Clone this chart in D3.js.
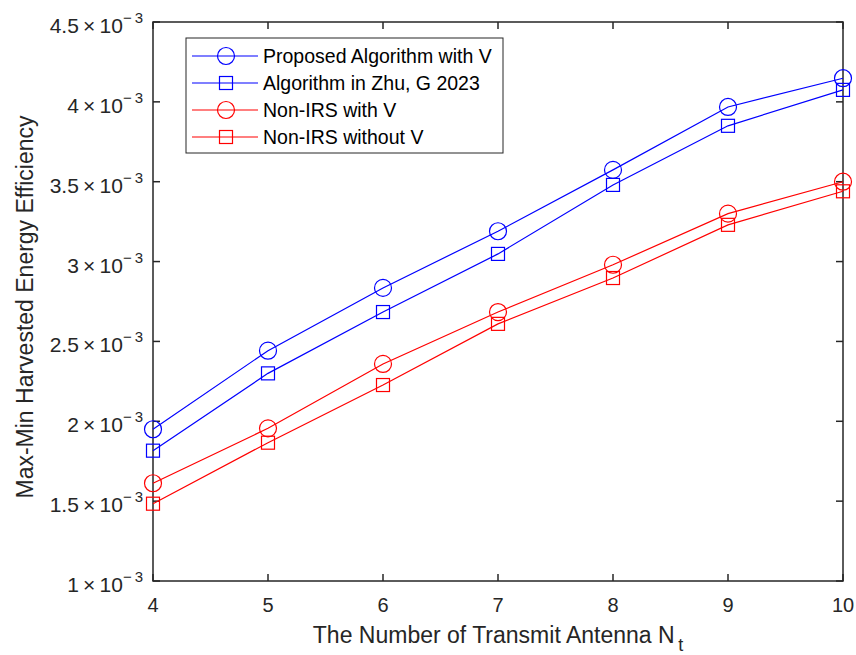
<!DOCTYPE html>
<html lang="en">
<head>
<meta charset="utf-8">
<title>Max-Min Harvested Energy Efficiency</title>
<script src="https://cdn.jsdelivr.net/npm/d3@7"></script>
<style>
  body { margin: 0; background: #fff; }
  text { font-family: "Liberation Sans", Arial, sans-serif; fill: #262626; }
</style>
</head>
<body>
<script>
// data
var antennas = [4, 5, 6, 7, 8, 9, 10];
var proposed = [1.950, 2.442, 2.835, 3.190, 3.574, 3.968, 4.148];
var zhu2023 = [1.816, 2.300, 2.684, 3.048, 3.480, 3.850, 4.075];
var nonIrsWith = [1.612, 1.956, 2.359, 2.684, 2.980, 3.300, 3.500];
var nonIrsWithout = [1.484, 1.866, 2.227, 2.610, 2.897, 3.230, 3.440];
var yTicks = [1, 1.5, 2, 2.5, 3, 3.5, 4, 4.5];   // x 10^-3

var series = [
  { name: "Proposed Algorithm with V", values: proposed, color: "#0000ff", marker: "circle" },
  { name: "Algorithm in Zhu, G 2023", values: zhu2023, color: "#0000ff", marker: "square" },
  { name: "Non-IRS with V", values: nonIrsWith, color: "#ff0000", marker: "circle" },
  { name: "Non-IRS without V", values: nonIrsWithout, color: "#ff0000", marker: "square" }
];

var w = 856, h = 655;
var pLeft = 153, pRight = 843, pTop = 22, pBottom = 581;

var svg = d3.select("body").append("svg")
  .attr("width", w).attr("height", h);

var x = d3.scaleLinear().domain([4, 10]).range([pLeft, pRight]);
var y = d3.scaleLinear().domain([1, 4.5]).range([pBottom, pTop]);

// axes box
svg.append("rect")
  .attr("x", pLeft).attr("y", pTop)
  .attr("width", pRight - pLeft).attr("height", pBottom - pTop)
  .attr("fill", "none").attr("stroke", "#262626").attr("stroke-width", 1.5);

var tl = 7;
var g = svg.append("g").attr("stroke", "#262626").attr("stroke-width", 1.5);
antennas.forEach(function(d) {
  g.append("line").attr("x1", x(d)).attr("x2", x(d)).attr("y1", pBottom).attr("y2", pBottom - tl);
  g.append("line").attr("x1", x(d)).attr("x2", x(d)).attr("y1", pTop).attr("y2", pTop + tl);
});
yTicks.forEach(function(d) {
  g.append("line").attr("x1", pLeft).attr("x2", pLeft + tl).attr("y1", y(d)).attr("y2", y(d));
  g.append("line").attr("x1", pRight).attr("x2", pRight - tl).attr("y1", y(d)).attr("y2", y(d));
});

// x tick labels
svg.selectAll(".xt").data(antennas).enter().append("text")
  .attr("x", function(d) { return x(d); })
  .attr("y", pBottom + 31)
  .attr("text-anchor", "middle")
  .style("font-size", "20px")
  .text(function(d) { return d; });

// y tick labels with exponent
yTicks.forEach(function(d) {
  var t = svg.append("text")
    .attr("x", pLeft - 10)
    .attr("y", y(d) + 11)
    .attr("text-anchor", "end")
    .style("font-size", "21px");
  t.append("tspan").text(d + "\u2009\u00d7\u200910");
  t.append("tspan").attr("dy", -10).style("font-size", "15px").text("\u2212\u20093");
});

// axis labels
var xl = svg.append("text")
  .attr("x", (pLeft + pRight) / 2)
  .attr("y", 643)
  .attr("text-anchor", "middle")
  .style("font-size", "23px");
xl.append("tspan").text("The Number of Transmit Antenna N");
xl.append("tspan").attr("dy", 8).style("font-size", "18px").text("\u2009t");

svg.append("text")
  .attr("transform", "translate(33,307) rotate(-90)")
  .attr("text-anchor", "middle")
  .style("font-size", "23px")
  .text("Max-Min Harvested Energy Efficiency");

// lines and markers
var line = d3.line()
  .x(function(d, i) { return x(antennas[i]); })
  .y(function(d) { return y(d); });

function drawMarker(sel, type, color, cx, cy) {
  if (type === "circle") {
    sel.append("circle").attr("cx", cx).attr("cy", cy).attr("r", 8.5)
      .attr("fill", "none").attr("stroke", color).attr("stroke-width", 1.2);
  } else {
    sel.append("rect").attr("x", cx - 6.5).attr("y", cy - 6.5)
      .attr("width", 13).attr("height", 13)
      .attr("fill", "none").attr("stroke", color).attr("stroke-width", 1.2);
  }
}

series.forEach(function(s) {
  svg.append("path").datum(s.values)
    .attr("d", line)
    .attr("fill", "none")
    .attr("stroke", s.color)
    .attr("stroke-width", 1.2);
  var mg = svg.append("g");
  s.values.forEach(function(v, i) {
    drawMarker(mg, s.marker, s.color, x(antennas[i]), y(v));
  });
});

// legend
var lg = svg.append("g");
lg.append("rect")
  .attr("x", 186).attr("y", 38)
  .attr("width", 317).attr("height", 115)
  .attr("fill", "#fff").attr("stroke", "#262626").attr("stroke-width", 1);
series.forEach(function(s, i) {
  var ly = 56 + i * 27;
  lg.append("line").attr("x1", 192).attr("x2", 258).attr("y1", ly).attr("y2", ly)
    .attr("stroke", s.color).attr("stroke-width", 1.2);
  drawMarker(lg, s.marker, s.color, 226, ly);
  lg.append("text").attr("x", 263).attr("y", ly + 7)
    .style("font-size", "19.5px").style("fill", "#000")
    .text(s.name);
});
</script>
</body>
</html>
